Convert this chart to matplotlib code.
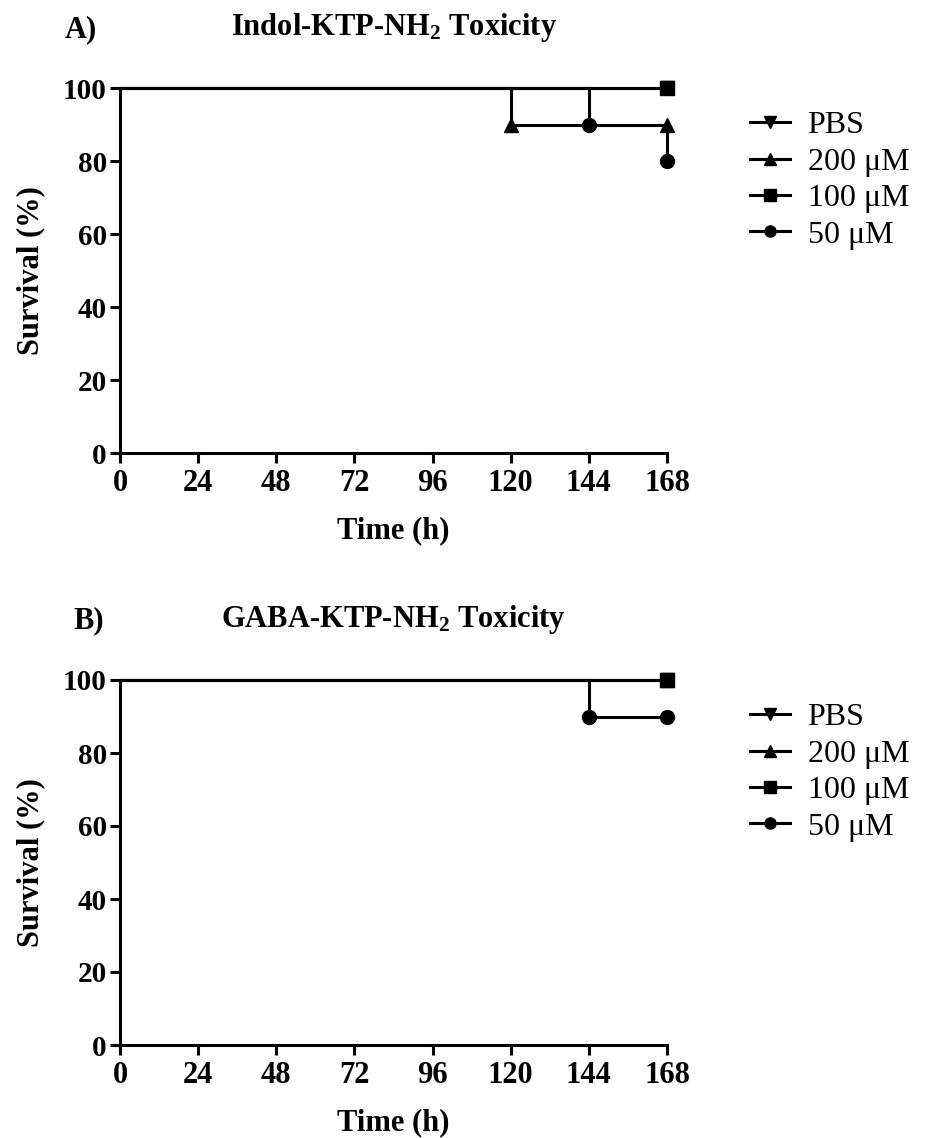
import matplotlib
matplotlib.use("Agg")
import matplotlib.pyplot as plt

plt.rcParams['font.family'] = ['Liberation Serif', 'DejaVu Serif']
plt.rcParams['mathtext.fontset'] = 'custom'
plt.rcParams['mathtext.rm'] = 'Liberation Serif'
plt.rcParams['mathtext.bf'] = 'Liberation Serif:bold'
plt.rcParams['mathtext.it'] = 'Liberation Serif:italic'

# ---------------- data ----------------
labels = ["PBS", "200 \u03bcM", "100 \u03bcM", "50 \u03bcM"]
markers = ["v", "^", "s", "o"]
x_ticks = [0, 24, 48, 72, 96, 120, 144, 168]
y_ticks = [0, 20, 40, 60, 80, 100]

# Panel A: Indol-KTP-NH2
times_A_pbs = [0, 168]
surv_A_pbs = [100, 100]
times_A_200 = [0, 120, 168]
surv_A_200 = [100, 90, 90]
times_A_100 = [0, 168]
surv_A_100 = [100, 100]
times_A_50 = [0, 144, 168]
surv_A_50 = [100, 90, 80]

# Panel B: GABA-KTP-NH2
times_B_pbs = [0, 168]
surv_B_pbs = [100, 100]
times_B_200 = [0, 168]
surv_B_200 = [100, 100]
times_B_100 = [0, 168]
surv_B_100 = [100, 100]
times_B_50 = [0, 144, 168]
surv_B_50 = [100, 90, 90]

W, H = 925, 1138
fig = plt.figure(figsize=(W / 100, H / 100), dpi=100)


def px_axes(left, right, top, bottom):
    return fig.add_axes([left / W, 1 - bottom / H, (right - left) / W, (bottom - top) / H])


def draw_panel(ax, series, title, tag, title_y, tag_x, legend_top):
    lw = 2.2
    for (t, s), m, lab in zip(series, markers, labels):
        ax.step(t, s, where='post', color='black', lw=lw, clip_on=False,
                solid_capstyle='butt', zorder=3)
        ax.plot(t[1:], s[1:], linestyle='none', marker=m, color='black',
                markersize=10, clip_on=False, zorder=4)
    ax.set_xlim(0, 168)
    ax.set_ylim(0, 100)
    ax.set_xticks(x_ticks)
    ax.set_yticks(y_ticks)
    for sp in ['top', 'right']:
        ax.spines[sp].set_visible(False)
    for sp in ['left', 'bottom']:
        ax.spines[sp].set_linewidth(2.2)
    ax.tick_params(axis='both', direction='out', length=7.5, width=2.2)
    ax.tick_params(axis='x', labelsize=22, pad=4)
    ax.tick_params(axis='y', labelsize=21, pad=2)
    for lbl in ax.get_xticklabels() + ax.get_yticklabels():
        lbl.set_fontweight('bold')
    ax.set_xlabel("Time (h)", fontsize=22, fontweight='bold', labelpad=13)
    ax.set_ylabel("Survival (%)", fontsize=22, fontweight='bold', labelpad=13)

    bb = ax.get_position()
    fig.text((bb.x0 + bb.x1) / 2, 1 - title_y / H, title, ha='center', va='center',
             fontsize=22, fontweight='bold')
    fig.text(tag_x / W, 1 - (title_y + 2) / H, tag, ha='left', va='center',
             fontsize=22, fontweight='bold')

    handles = []
    for m, lab in zip(markers, labels):
        h, = ax.plot([], [], color='black', lw=lw, marker=m, markersize=10, label=lab)
        handles.append(h)
    fig.legend(handles=handles, loc='upper left',
               bbox_to_anchor=(750 / W, 1 - legend_top / H), bbox_transform=fig.transFigure,
               frameon=False, fontsize=23, handlelength=1.25, handletextpad=0.55,
               labelspacing=0.22, borderpad=0, borderaxespad=0, markerscale=0.8)


axA = px_axes(120, 667, 88, 453)
draw_panel(axA,
           [(times_A_pbs, surv_A_pbs), (times_A_200, surv_A_200),
            (times_A_100, surv_A_100), (times_A_50, surv_A_50)],
           r"Indol-KTP-NH$_\mathbf{2}$ Toxicity", "A)", 28, 65, 111)

axB = px_axes(120, 667, 680, 1045)
draw_panel(axB,
           [(times_B_pbs, surv_B_pbs), (times_B_200, surv_B_200),
            (times_B_100, surv_B_100), (times_B_50, surv_B_50)],
           r"GABA-KTP-NH$_\mathbf{2}$ Toxicity", "B)", 619, 73, 703)

fig.savefig("out.png", dpi=100)
